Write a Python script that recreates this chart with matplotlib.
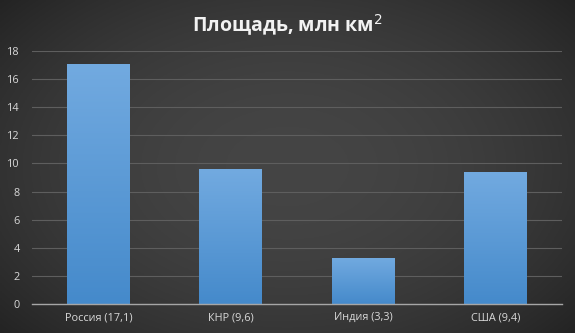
import numpy as np
import matplotlib
matplotlib.use("Agg")
import matplotlib.pyplot as plt

countries = ["Россия (17,1)", "КНР (9,6)", "Индия (3,3)", "США (9,4)"]
area = [17.1, 9.6, 3.3, 9.4]
yticks = [0, 2, 4, 6, 8, 10, 12, 14, 16, 18]

plt.rcParams['font.family'] = ['Open Sans', 'DejaVu Sans']

fig = plt.figure(figsize=(5.75, 3.33), dpi=100)

# background: dark gray with darker edges
bg = fig.add_axes([0, 0, 1, 1])
yy, xx = np.mgrid[-1:1:200j, -1:1:300j]
r = np.sqrt((xx * 0.9) ** 2 + (yy * 0.8) ** 2)
shade = 0.27 - 0.09 * np.clip(r, 0, 1.4) ** 2
bg.imshow(np.dstack([shade, shade, shade]), aspect='auto', extent=[0, 1, 0, 1])
bg.axis('off')

ax = fig.add_axes([0.056, 0.087, 0.921, 0.760])
ax.set_facecolor('none')
x = np.arange(len(countries))
bars = ax.bar(x, area, width=0.475, color='#5b9bd5', zorder=3)

# vertical gradient in the bars
grad = np.linspace(0, 1, 100).reshape(-1, 1)
top = np.array([0x72, 0xaa, 0xe0]) / 255
bot = np.array([0x45, 0x8a, 0xcb]) / 255
img = bot + (top - bot) * grad[..., None]
for b in bars:
    bx, by = b.get_x(), b.get_y()
    w, h = b.get_width(), b.get_height()
    im = ax.imshow(img, origin='lower', aspect='auto',
                   extent=[bx, bx + w, by, by + h], zorder=4)
    im.set_clip_path(b)

ax.set_xlim(-0.5, len(countries) - 0.5)
ax.set_ylim(0, 18)
ax.set_yticks(yticks)
ax.set_xticks(x)
ax.set_xticklabels(countries)
ax.tick_params(colors='#d9d9d9', labelsize=7.8, length=0)
ax.tick_params(axis='y', pad=9)
ax.tick_params(axis='x', pad=6)
ax.grid(axis='y', color='#5e5e5e', linewidth=0.8, zorder=0)
for s in ['top', 'right', 'left']:
    ax.spines[s].set_visible(False)
ax.spines['bottom'].set_color('#a6a6a6')
ax.spines['bottom'].set_linewidth(1.0)
ax.spines['bottom'].set_zorder(5)

fig.text(0.5, 0.925, "Площадь, млн км$^2$", ha='center', va='center',
         color='#f2f2f2', fontsize=14, fontweight='bold')

fig.savefig("out.png", dpi=100)
